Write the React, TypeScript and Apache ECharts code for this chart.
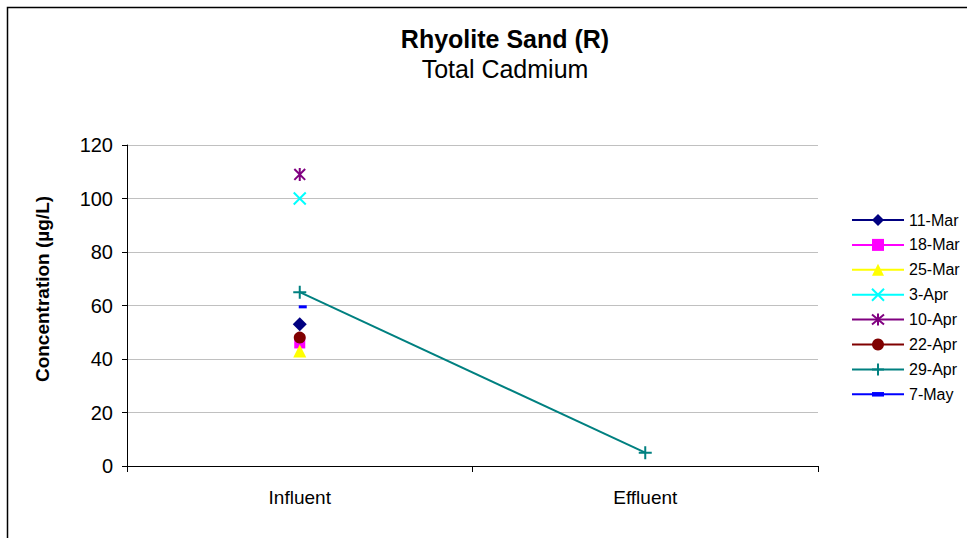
import React, { useEffect, useRef } from "react";
import * as echarts from "echarts";

const categories = ["Influent", "Effluent"];
const seriesNames = ["11-Mar", "18-Mar", "25-Mar", "3-Apr", "10-Apr", "22-Apr", "29-Apr", "7-May"];
const influent = [53, 46, 43, 100, 109, 48, 65, 59.5];
const effluent: (number | null)[] = [null, null, null, null, null, null, 5, null];
const colors = ["#000080", "#FF00FF", "#FFFF00", "#00FFFF", "#800080", "#800000", "#008080", "#0000FF"];
const yTicks = [0, 20, 40, 60, 80, 100, 120];
const yTitle = "Concentration (µg/L)";

const X_PATH = "path://M0,0 L10,10 M10,0 L0,10";
const STAR_PATH = "path://M0,0 L10,10 M10,0 L0,10 M5,-1 L5,11";
const PLUS_PATH = "path://M5,0 L5,10 M0,5 L10,5";
const DASH_PATH = "path://M0,-2.5 M8,5.5 M0,0 L8,0 L8,3 L0,3 Z";

const symbols: any[] = ["diamond", "rect", "triangle", X_PATH, STAR_PATH, "circle", PLUS_PATH, DASH_PATH];
const symbolSizes: any[] = [14, 11, 13, 12, 13, 12, 13, 8];
const stroked = [false, false, false, true, true, false, true, false];

export default function App() {
  const ref = useRef<HTMLDivElement>(null);
  useEffect(() => {
    const chart = echarts.init(ref.current!, null, { renderer: "svg" });
    const font = "'Liberation Sans', Arial, sans-serif";
    const series = seriesNames.map((name, i) => ({
      name,
      type: "line",
      data: [influent[i], effluent[i]],
      connectNulls: false,
      symbol: symbols[i],
      symbolSize: symbolSizes[i],
      symbolKeepAspect: true,
      symbolOffset: i === 7 ? [3, 0] : [0, 0],
      showAllSymbol: true,
      lineStyle: { color: colors[i], width: 2 },
      itemStyle: stroked[i]
        ? { color: colors[i], borderColor: colors[i], borderWidth: 2 }
        : { color: colors[i], borderWidth: 0 },
      emphasis: { disabled: true },
    }));
    chart.setOption({
      animation: false,
      backgroundColor: "#ffffff",
      title: {
        text: "Rhyolite Sand (R)",
        subtext: "Total Cadmium",
        left: 500,
        top: 21,
        textAlign: "center",
        itemGap: 5,
        textStyle: { fontFamily: font, fontSize: 25, fontWeight: "bold", color: "#000" },
        subtextStyle: { fontFamily: font, fontSize: 25, color: "#000" },
      },
      legend: {
        orient: "vertical",
        left: 846,
        top: 207,
        itemWidth: 52,
        itemHeight: 15,
        itemGap: 8.9,
        data: seriesNames,
        textStyle: { fontFamily: font, fontSize: 16, lineHeight: 15, color: "#000" },
      },
      grid: { left: 127, right: 149, top: 145, bottom: 72, containLabel: false },
      xAxis: {
        type: "category",
        data: categories,
        boundaryGap: true,
        axisLine: { lineStyle: { color: "#000", width: 1 } },
        axisTick: { show: true, alignWithLabel: false, length: 6, lineStyle: { color: "#000" } },
        axisLabel: { fontFamily: font, fontSize: 19, color: "#000", margin: 22 },
        splitLine: { show: false },
      },
      yAxis: {
        type: "value",
        min: yTicks[0],
        max: yTicks[yTicks.length - 1],
        interval: 20,
        axisLine: { show: true, lineStyle: { color: "#000", width: 1 } },
        axisTick: { show: true, length: 5, lineStyle: { color: "#000" } },
        axisLabel: { fontFamily: font, fontSize: 20, color: "#000", margin: 14 },
        splitLine: { show: true, lineStyle: { color: "#c0c0c0", width: 1 } },
      },
      graphic: [
        {
          type: "rect",
          shape: { x: 7.5, y: 7.5, width: 1000, height: 600 },
          style: { fill: "none", stroke: "#000", lineWidth: 1.5 },
          silent: true,
        },
        {
          type: "text",
          x: 42,
          y: 289,
          rotation: Math.PI / 2,
          style: {
            text: yTitle,
            fontFamily: font,
            fontSize: 19,
            fontWeight: "bold",
            fill: "#000",
            align: "center",
            verticalAlign: "middle",
          },
          silent: true,
        },
      ],
      series,
    });
    return () => chart.dispose();
  }, []);
  return (
    <div
      ref={ref}
      style={{ position: "absolute", left: 0, top: 0, width: 967, height: 538 }}
    />
  );
}
